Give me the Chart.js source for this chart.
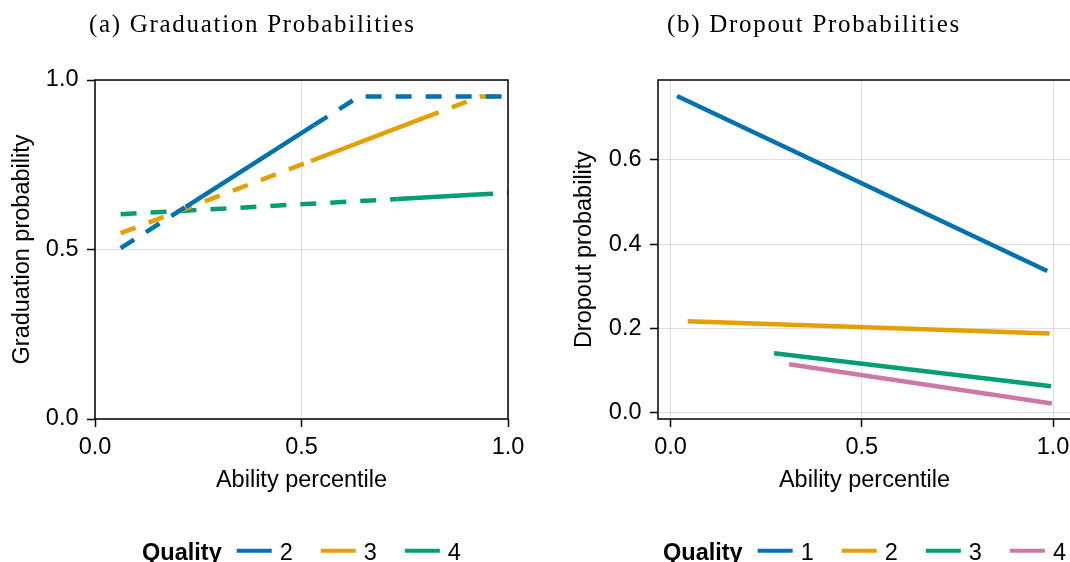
<!DOCTYPE html>
<html>
<head>
<meta charset="utf-8">
<script src="https://cdn.jsdelivr.net/npm/chart.js@4.4.1/dist/chart.umd.min.js"></script>
<style>
  html, body { margin: 0; padding: 0; background: #fff; width: 1070px; height: 562px; overflow: hidden; }
  .panel { position: absolute; top: 0; height: 562px; }
  #gradPanel { left: 0; width: 540px; }
  #dropPanel { left: 540px; width: 560px; }
  .caption {
    position: absolute; top: 11px; margin: 0;
    font-family: 'Liberation Serif', 'DejaVu Serif', serif;
    font-size: 25px; line-height: 25px; letter-spacing: 1.7px;
    color: #000; white-space: nowrap;
  }
</style>
</head>
<body>
<div class="panel" id="gradPanel"><canvas id="gradChart" width="540" height="562"></canvas></div>
<div class="panel" id="dropPanel"><canvas id="dropChart" width="560" height="562"></canvas></div>
<div class="caption" style="left:89px">(a) Graduation Probabilities</div>
<div class="caption" style="left:667px">(b) Dropout Probabilities</div>

<script>
// ---- Panel (a): graduation probability against ability percentile ----
const gradAbilityQ2 = [0.062, 0.220, 0.530, 0.639, 1.000];
const gradProbQ2    = [0.504, 0.626, 0.867, 0.951, 0.951];
const gradAbilityQ3 = [0.062, 0.523, 0.796, 0.933, 1.000];
const gradProbQ3    = [0.548, 0.761, 0.888, 0.951, 0.951];
const gradAbilityQ4 = [0.062, 0.732, 0.925, 1.000];
const gradProbQ4    = [0.604, 0.649, 0.662, 0.667];
// ability span backed by observed students: solid inside, dashed (extrapolated) outside
const gradObservedQ2 = [0.220, 0.530];
const gradObservedQ3 = [0.523, 0.796];
const gradObservedQ4 = [0.732, 0.925];
const gradQualities  = ['2', '3', '4'];
const gradXTicks = [0, 0.5, 1];
const gradYTicks = [0, 0.5, 1];

// ---- Panel (b): dropout probability against ability percentile ----
const dropAbilityQ1 = [0.017, 0.985];
const dropProbQ1    = [0.751, 0.336];
const dropAbilityQ2 = [0.045, 0.991];
const dropProbQ2    = [0.217, 0.188];
const dropAbilityQ3 = [0.271, 0.995];
const dropProbQ3    = [0.141, 0.063];
const dropAbilityQ4 = [0.310, 0.997];
const dropProbQ4    = [0.115, 0.022];
const dropQualities = ['1', '2', '3', '4'];
const dropXTicks = [0, 0.5, 1];
const dropYTicks = [0, 0.2, 0.4, 0.6];

// ---- styling ----
const SANS = "'Liberation Sans', Arial, Helvetica, sans-serif";
const FS = 23.5;
const QUALITY_COLORS = { '1': '#0072B2', '2': '#E69F00', '3': '#009E73', '4': '#CC79A7' };
const GRAD_COLORS = ['#0072B2', '#E69F00', '#009E73'];
const DASH = [16, 14];
const LINE_W = 4.5;

Chart.defaults.color = '#000';
Chart.defaults.font.family = SANS;

const toPoints = (xs, ys) => xs.map((x, i) => ({ x, y: ys[i] }));

function gradSeries(label, color, xs, ys, observed) {
  return {
    label, data: toPoints(xs, ys),
    borderColor: color, backgroundColor: color,
    borderWidth: LINE_W, pointRadius: 0, tension: 0, fill: false,
    borderCapStyle: 'butt', borderJoinStyle: 'round',
    segment: {
      borderDash: ctx => {
        const a = xs[ctx.p0DataIndex], b = xs[ctx.p1DataIndex];
        return (a >= observed[0] - 1e-9 && b <= observed[1] + 1e-9) ? [] : DASH;
      }
    }
  };
}

function dropSeries(label, xs, ys) {
  const color = QUALITY_COLORS[label];
  return {
    label, data: toPoints(xs, ys),
    borderColor: color, backgroundColor: color,
    borderWidth: LINE_W, pointRadius: 0, tension: 0, fill: false,
    borderCapStyle: 'butt'
  };
}

function axis(min, max, ticks, titleText, fixedSize, isY, titlePad) {
  return {
    type: 'linear', min, max,
    afterBuildTicks: s => { s.ticks = ticks.map(v => ({ value: v })); },
    afterFit: s => { if (isY) s.width = fixedSize; else s.height = fixedSize; },
    grid: {
      color: 'rgba(0,0,0,0.12)', lineWidth: 1,
      drawTicks: true, tickLength: 8, tickColor: '#000', tickWidth: 1.5
    },
    border: { display: false },
    ticks: {
      autoSkip: false, maxRotation: 0, padding: isY ? 8.5 : 6.5,
      font: { family: SANS, size: FS }, color: '#000',
      callback: v => Number(v).toFixed(1)
    },
    title: {
      display: true, text: titleText, color: '#000',
      font: { family: SANS, size: FS }, padding: titlePad
    }
  };
}

// box around the plotting area
const framePlugin = {
  id: 'frame',
  afterDatasetsDraw(chart) {
    const { ctx, chartArea: a } = chart;
    ctx.save();
    ctx.strokeStyle = '#000';
    ctx.lineWidth = 1.5;
    ctx.strokeRect(a.left, a.top, a.right - a.left, a.bottom - a.top);
    ctx.restore();
  }
};

// horizontal "Quality" legend centred below the plot
const qualityLegend = {
  id: 'qualityLegend',
  afterDraw(chart, args, opts) {
    const { ctx, chartArea: a } = chart;
    const items = chart.data.datasets;
    ctx.save();
    ctx.textBaseline = 'alphabetic';
    ctx.fillStyle = '#000';
    ctx.font = `bold ${FS}px ${SANS}`;
    const titleW = ctx.measureText(opts.title).width;
    ctx.font = `${FS}px ${SANS}`;
    const widths = items.map(d => ctx.measureText(d.label).width);
    const gapTitle = 15, lineLen = 35, gapLine = 8, gapItem = 28;
    const total = titleW + gapTitle +
      widths.reduce((s, w) => s + lineLen + gapLine + w, 0) + gapItem * (items.length - 1);
    let x = (a.left + a.right) / 2 - total / 2;
    const base = opts.baseline;
    ctx.font = `bold ${FS}px ${SANS}`;
    ctx.fillText(opts.title, x, base);
    x += titleW + gapTitle;
    ctx.font = `${FS}px ${SANS}`;
    items.forEach((d, i) => {
      ctx.strokeStyle = d.borderColor;
      ctx.lineWidth = 4;
      ctx.beginPath();
      ctx.moveTo(x, base - 9.3);
      ctx.lineTo(x + lineLen, base - 9.3);
      ctx.stroke();
      x += lineLen + gapLine;
      ctx.fillText(d.label, x, base);
      x += widths[i] + gapItem;
    });
    ctx.restore();
  }
};

const baseOptions = (padRight, scales) => ({
  responsive: false, animation: false, events: [],
  layout: { padding: { left: 0, top: 80, right: padRight, bottom: 62 } },
  plugins: {
    legend: { display: false }, tooltip: { enabled: false },
    qualityLegend: { title: 'Quality', baseline: 560 }
  },
  scales
});

new Chart(document.getElementById('gradChart'), {
  type: 'line',
  data: {
    datasets: [
      gradSeries(gradQualities[0], GRAD_COLORS[0], gradAbilityQ2, gradProbQ2, gradObservedQ2),
      gradSeries(gradQualities[1], GRAD_COLORS[1], gradAbilityQ3, gradProbQ3, gradObservedQ3),
      gradSeries(gradQualities[2], GRAD_COLORS[2], gradAbilityQ4, gradProbQ4, gradObservedQ4)
    ]
  },
  options: baseOptions(32, {
    x: axis(0, 1, gradXTicks, 'Ability percentile', 81, false, { top: 0, bottom: 5.8 }),
    y: axis(0, 1, gradYTicks, 'Graduation probability', 95, true, { top: 8.7, bottom: 0 })
  }),
  plugins: [framePlugin, qualityLegend]
});

new Chart(document.getElementById('dropChart'), {
  type: 'line',
  data: {
    datasets: [
      dropSeries(dropQualities[0], dropAbilityQ1, dropProbQ1),
      dropSeries(dropQualities[1], dropAbilityQ2, dropProbQ2),
      dropSeries(dropQualities[2], dropAbilityQ3, dropProbQ3),
      dropSeries(dropQualities[3], dropAbilityQ4, dropProbQ4)
    ]
  },
  options: baseOptions(29, {
    x: axis(-0.0327, 1.047, dropXTicks, 'Ability percentile', 81, false, { top: 0, bottom: 5.8 }),
    y: axis(-0.0149, 0.789, dropYTicks, 'Dropout probability', 118, true, { top: 30.9, bottom: 0 })
  }),
  plugins: [framePlugin, qualityLegend]
});
</script>
</body>
</html>
